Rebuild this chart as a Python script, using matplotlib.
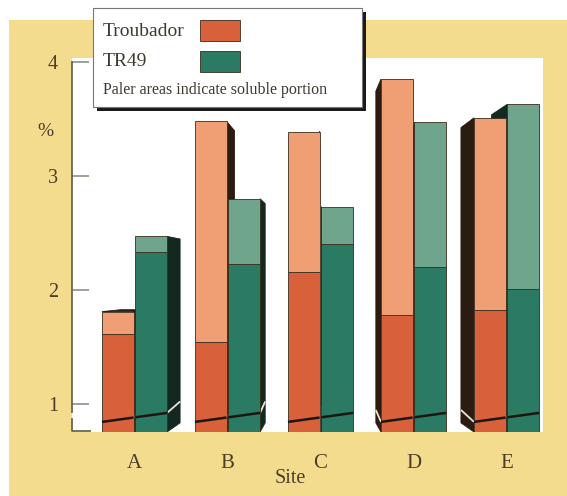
import matplotlib
matplotlib.use("Agg")
import matplotlib.pyplot as plt
from matplotlib.patches import Rectangle, Polygon

plt.rcParams["font.family"] = ["Liberation Serif", "DejaVu Serif"]

# Data: percent by site, total height and the insoluble (darker) part
sites = ["A", "B", "C", "D", "E"]
troubador_total = [1.81, 3.48, 3.39, 3.85, 3.51]
troubador_insol = [1.61, 1.54, 2.16, 1.78, 1.82]
tr49_total = [2.47, 2.80, 2.73, 3.47, 3.63]
tr49_insol = [2.33, 2.23, 2.40, 2.20, 2.01]
yticks = [1, 2, 3, 4]

# colours
YELLOW = "#f4dc8e"
OR_DARK, OR_PALE, OR_SIDE = "#d8603a", "#ef9f73", "#2a1c10"
GR_DARK, GR_PALE, GR_SIDE = "#2b7b64", "#6ea58c", "#13291f"
TXT = "#4a3e2a"
EDGE = "#3b2c1c"

# fake perspective: back faces shrink toward this point
VX, VY = 2.0, 2.09
KX, KY = 0.915, 0.94
W, OFF = 0.34, 0.18
YMIN, YMAX = 0.754, 4.035


def back(x, y):
    return VX + KX * (x - VX), VY + KY * (y - VY)


def break_y(x, c):
    return 0.882 + 0.113 * (x - c)


fig = plt.figure(figsize=(5.67, 4.96), dpi=100)
fig.patch.set_facecolor("white")

# yellow panel behind everything
ax_bg = fig.add_axes([0, 0, 1, 1], zorder=0)
ax_bg.set_xlim(0, 567)
ax_bg.set_ylim(496, 0)
ax_bg.axis("off")
ax_bg.add_patch(Rectangle((9, 20), 560, 480, facecolor=YELLOW, edgecolor="none"))

ax = fig.add_axes([72 / 567, 64 / 496, 471 / 567, 374 / 496], zorder=1)
ax.set_facecolor("white")
ax.set_xlim(-0.672, 4.392)
ax.set_ylim(YMIN, YMAX)
for s in ax.spines.values():
    s.set_visible(False)

series = [
    (troubador_total, troubador_insol, -OFF, OR_DARK, OR_PALE, OR_SIDE),
    (tr49_total, tr49_insol, OFF, GR_DARK, GR_PALE, GR_SIDE),
]

for i, c in enumerate(range(len(sites))):
    for tot, ins, off, dark, pale, side in series:
        xl, xr = c + off - W / 2, c + off + W / 2
        t, b = tot[i], YMIN
        # side face
        if xr < VX:
            xe = xr
        elif xl > VX:
            xe = xl
        else:
            xe = None
        if xe is not None:
            bx1, by1 = back(xe, b)
            bx2, by2 = back(xe, t)
            ax.add_patch(Polygon([(xe, b), (xe, t), (bx2, by2), (bx1, by1)],
                                 closed=True, facecolor=side, edgecolor=side,
                                 lw=0.6, zorder=2))
            yb = break_y(xe, c)
            px, py = back(xe, yb)
            ax.plot([xe, px], [yb, py + 0.03], color="#e8e4dc", lw=1.3,
                    zorder=2.5, solid_capstyle="butt")
        # top face, seen only when below the vanishing height
        if t < VY:
            p1 = back(xl, t)
            p2 = back(xr, t)
            ax.add_patch(Polygon([(xl, t), (xr, t), p2, p1], closed=True,
                                 facecolor=side, edgecolor=side, lw=0.6,
                                 zorder=2))
        # front face: insoluble part then soluble part
        ax.bar(c + off, ins[i] - b, W, bottom=b, color=dark,
               edgecolor=EDGE, lw=0.6, zorder=3)
        ax.bar(c + off, t - ins[i], W, bottom=ins[i], color=pale,
               edgecolor=EDGE, lw=0.6, zorder=3)
        # axis break drawn across the bar
        ax.plot([xl, xr], [break_y(xl, c), break_y(xr, c)], color="#1c1610",
                lw=1.8, zorder=4, solid_capstyle="butt")

# broken y axis
yt = ax.get_yaxis_transform()
ax.plot([0, 0], [0.93, 4.0], color="#6b6458", lw=1.3, transform=yt,
        clip_on=False, zorder=5)
ax.plot([0, 0, 0.038], [0.87, YMIN + 0.01, YMIN + 0.01], color="#6b6458",
        lw=1.3, transform=yt, clip_on=False, zorder=5)

ax.set_yticks(yticks)
ax.set_yticklabels([str(v) for v in yticks])
ax.tick_params(axis="y", direction="in", length=12, width=1.1,
               color="#8a8578", pad=10, labelsize=14.5, labelcolor=TXT)
ax.set_xticks(range(len(sites)))
ax.set_xticklabels(sites)
ax.tick_params(axis="x", length=0, pad=16, labelsize=15, labelcolor=TXT)

ax.set_ylabel("%", rotation=0, fontsize=14, color=TXT)
ax.yaxis.set_label_coords(-0.057, 0.78)
ax.set_xlabel("Site", fontsize=14.5, color=TXT)
ax.xaxis.set_label_coords(0.463, -0.1)

# legend box with drop shadow
ax_lg = fig.add_axes([0, 0, 1, 1], zorder=3)
ax_lg.set_xlim(0, 567)
ax_lg.set_ylim(496, 0)
ax_lg.axis("off")
ax_lg.add_patch(Rectangle((97, 12), 269, 99, facecolor="#1a1a1a", edgecolor="none"))
ax_lg.add_patch(Rectangle((93, 8), 269, 99, facecolor="white",
                          edgecolor="#777777", lw=0.8))
ax_lg.text(103, 31, "Troubador", fontsize=14, color="#3f3a30", va="center")
ax_lg.add_patch(Rectangle((200, 20), 40, 21, facecolor=OR_DARK,
                          edgecolor=EDGE, lw=0.6))
ax_lg.text(103, 61, "TR49", fontsize=14, color="#3f3a30", va="center")
ax_lg.add_patch(Rectangle((200, 51), 40, 21, facecolor=GR_DARK,
                          edgecolor=EDGE, lw=0.6))
ax_lg.text(103, 90, "Paler areas indicate soluble portion", fontsize=11.5,
           color="#3f3a30", va="center")

fig.savefig("out.png", dpi=100, facecolor=fig.get_facecolor())
